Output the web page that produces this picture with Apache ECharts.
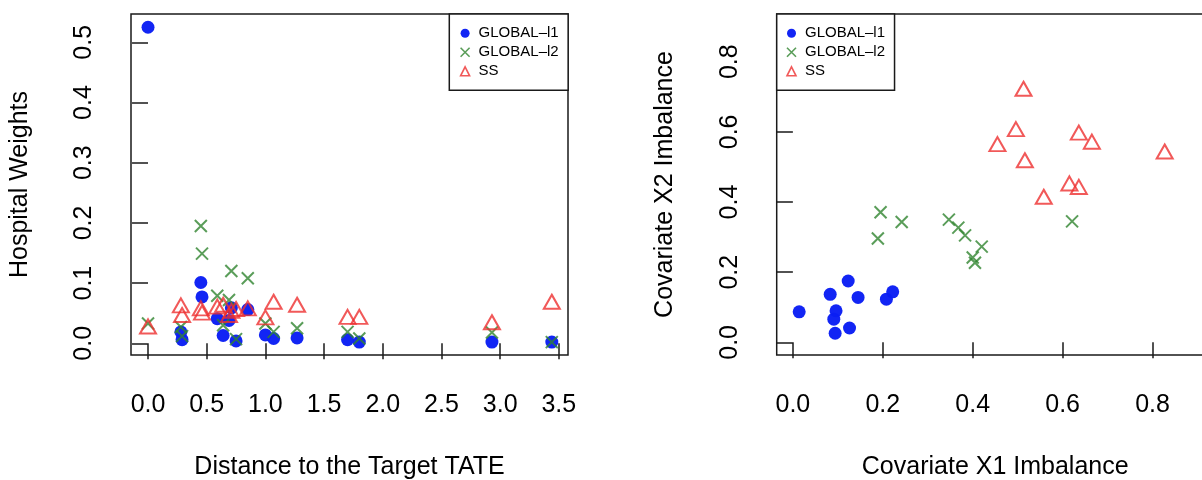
<!DOCTYPE html>
<html>
<head>
<meta charset="utf-8">
<script src="https://cdn.jsdelivr.net/npm/echarts@6/dist/echarts.min.js"></script>
<style>
html,body{margin:0;padding:0;background:#fff;}
#chart{width:1202px;height:480px;}
</style>
</head>
<body>
<div id="chart"></div>
<script>
// ---------- data ----------
const seriesNames = ['GLOBAL–l1', 'GLOBAL–l2', 'SS'];

// Left panel: hospital distance to target TATE and hospital weights per method
const distance = [0.00, 0.28, 0.29, 0.45, 0.46, 0.59, 0.64, 0.69, 0.71, 0.75, 0.85, 1.00, 1.07, 1.27, 1.70, 1.80, 2.93, 3.44];
const weightL1 = [0.525, 0.019, 0.006, 0.101, 0.077, 0.041, 0.013, 0.038, 0.059, 0.004, 0.056, 0.014, 0.008, 0.009, 0.006, 0.002, 0.002, 0.002];
const weightL2 = [0.033, 0.027, 0.012, 0.195, 0.149, 0.079, 0.030, 0.072, 0.120, 0.007, 0.108, 0.033, 0.019, 0.025, 0.019, 0.008, 0.018, 0.002];
const weightSS = [0.028, 0.063, 0.047, 0.058, 0.051, 0.061, 0.064, 0.047, 0.054, 0.057, 0.058, 0.043, 0.069, 0.064, 0.044, 0.044, 0.035, 0.069];

// Right panel: covariate imbalance (X1, X2) per method
const x1L1 = [0.014, 0.083, 0.123, 0.145, 0.096, 0.091, 0.094, 0.126, 0.208, 0.222];
const x2L1 = [0.087, 0.137, 0.175, 0.128, 0.090, 0.066, 0.026, 0.041, 0.123, 0.144];
const x1L2 = [0.195, 0.189, 0.242, 0.347, 0.368, 0.383, 0.420, 0.400, 0.405, 0.621];
const x2L2 = [0.371, 0.296, 0.343, 0.350, 0.327, 0.305, 0.273, 0.242, 0.227, 0.345];
const x1SS = [0.513, 0.496, 0.455, 0.516, 0.636, 0.665, 0.827, 0.615, 0.636, 0.558];
const x2SS = [0.723, 0.608, 0.565, 0.519, 0.598, 0.572, 0.544, 0.453, 0.443, 0.415];

// Tick labels
const leftXTicks = [0, 0.5, 1.0, 1.5, 2.0, 2.5, 3.0, 3.5];
const leftYTicks = [0, 0.1, 0.2, 0.3, 0.4, 0.5];
const rightXTicks = [0, 0.2, 0.4, 0.6, 0.8];
const rightYTicks = [0, 0.2, 0.4, 0.6, 0.8];

// ---------- styles ----------
const FONT = 'Liberation Sans, Arial, Helvetica, sans-serif';
const BLUE = '#0a1ef4';
const GREEN = '#318530';
const RED = '#ee3030';
const CROSS = 'path://M0,0L10,10M10,0L0,10';
const AXC = '#1a1a1a';

function zip(a, b) { return a.map((v, i) => [v, b[i]]); }

function axis(idx, min, max, ticks, name, isY, nameGap) {
  return {
    type: 'value', gridIndex: idx, min: min, max: max,
    name: name, nameLocation: 'middle', nameGap: nameGap,
    nameTextStyle: { fontSize: 25, color: '#000', fontFamily: FONT },
    axisLine: { show: false },
    splitLine: { show: false },
    axisTick: { show: true, length: 16, customValues: ticks, lineStyle: { color: AXC, width: 1.5 } },
    axisLabel: {
      customValues: ticks, fontSize: 25, color: '#000', fontFamily: FONT,
      margin: isY ? 34.5 : 38, rotate: isY ? 90 : 0,
      formatter: v => Number(v).toFixed(1)
    }
  };
}

function sc(name, data, x, y) {
  const base = { name: name, type: 'scatter', xAxisIndex: x, yAxisIndex: y, data: data, silent: true };
  if (name === seriesNames[0]) {
    return Object.assign(base, { symbol: 'circle', symbolSize: 13, itemStyle: { color: BLUE, borderWidth: 0, opacity: 0.97 } });
  } else if (name === seriesNames[1]) {
    return Object.assign(base, { symbol: CROSS, symbolSize: 12, itemStyle: { color: 'rgba(0,0,0,0)', borderColor: GREEN, borderWidth: 2 } });
  }
  return Object.assign(base, { symbol: 'triangle', symbolSize: [16, 14], itemStyle: { color: 'rgba(0,0,0,0)', borderColor: RED, borderWidth: 2 } });
}

const legendData = [
  { name: seriesNames[0], icon: 'circle', itemStyle: { color: BLUE, borderWidth: 0 } },
  { name: seriesNames[1], icon: CROSS, itemStyle: { color: 'rgba(0,0,0,0)', borderColor: GREEN, borderWidth: 1.6 } },
  { name: seriesNames[2], icon: 'triangle', itemStyle: { color: 'rgba(0,0,0,0)', borderColor: RED, borderWidth: 1.6 } }
];

function legend(left, padLeft) {
  return {
    left: left, top: 14, orient: 'vertical',
    padding: [11.8, 9.5, 11.5, padLeft],
    itemWidth: 9, itemHeight: 9, itemGap: 4,
    borderColor: AXC, borderWidth: 1.5, backgroundColor: '#fff',
    selectedMode: false,
    textStyle: { fontSize: 15, lineHeight: 15, color: '#000', fontFamily: FONT, padding: [0, 0, 0, 4] },
    data: legendData
  };
}

const option = {
  animation: false,
  backgroundColor: '#fff',
  textStyle: { fontFamily: FONT },
  grid: [
    { left: 131, top: 14, width: 437, height: 341, show: true, borderColor: AXC, borderWidth: 1.5, containLabel: false, outerBoundsMode: 'none' },
    { left: 776.7, top: 14, width: 437, height: 341, show: true, borderColor: AXC, borderWidth: 1.5, containLabel: false, outerBoundsMode: 'none' }
  ],
  xAxis: [
    axis(0, -0.145, 3.578, leftXTicks, 'Distance to the Target TATE', false, 99.5),
    axis(1, -0.036, 0.936, rightXTicks, 'Covariate X1 Imbalance', false, 99.5)
  ],
  yAxis: [
    axis(0, -0.0194, 0.547, leftYTicks, 'Hospital Weights', true, 98),
    axis(1, -0.036, 0.936, rightYTicks, 'Covariate X2 Imbalance', true, 99)
  ],
  legend: [legend(449.3, 10.5), legend(776.7, 9.5)],
  series: [
    sc(seriesNames[0], zip(distance, weightL1), 0, 0),
    sc(seriesNames[1], zip(distance, weightL2), 0, 0),
    sc(seriesNames[2], zip(distance, weightSS), 0, 0),
    sc(seriesNames[0], zip(x1L1, x2L1), 1, 1),
    sc(seriesNames[1], zip(x1L2, x2L2), 1, 1),
    sc(seriesNames[2], zip(x1SS, x2SS), 1, 1)
  ]
};

const chart = echarts.init(document.getElementById('chart'), null, { renderer: 'canvas' });
chart.setOption(option);
</script>
</body>
</html>
